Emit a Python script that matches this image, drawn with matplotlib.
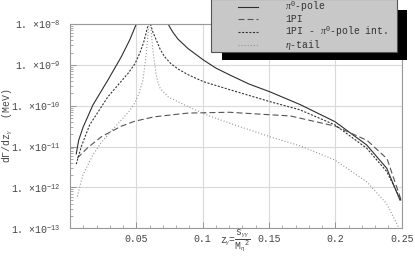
import numpy as np
import matplotlib
matplotlib.use("Agg")
import matplotlib.pyplot as plt
from matplotlib.patches import Rectangle
from matplotlib.lines import Line2D

# values, stored as log10(dGamma/dz)
# pi0-pole (solid), two branches around the pole
pole_z_left = [0.0047, 0.0065, 0.0098, 0.0173, 0.0286, 0.0387, 0.0450, 0.0500]
pole_lg_left = [-11.18, -10.85, -10.53, -9.98, -9.37, -8.80, -8.39, -8.00]
pole_z_right = [0.0739, 0.0775, 0.0814, 0.0889, 0.1005, 0.1100, 0.1206, 0.1350, 0.1507, 0.1733,
                0.1997, 0.2236, 0.2387, 0.2487]
pole_lg_right = [-8.00, -8.20, -8.37, -8.60, -8.88, -9.08, -9.25, -9.47, -9.66, -9.97,
                 -10.39, -10.96, -11.53, -12.31]

# 1PI (long dashes)
pi_z = [0.0055, 0.0136, 0.0236, 0.0387, 0.0487, 0.0638, 0.0890, 0.1200, 0.1500, 0.1660, 0.2000,
        0.2240, 0.2390, 0.2495]
pi_lg = [-11.28, -11.02, -10.76, -10.50, -10.38, -10.27, -10.18, -10.16, -10.22, -10.25, -10.50,
         -10.85, -11.30, -12.30]

# 1PI - pi0-pole interference (short dashes)
int_z_left = [0.0047, 0.0085, 0.0148, 0.0286, 0.0437, 0.0490, 0.0525, 0.0555, 0.0575, 0.0590]
int_lg_left = [-11.43, -11.00, -10.47, -9.78, -9.21, -8.97, -8.72, -8.45, -8.20, -8.00]
int_z_right = [0.0606, 0.0625, 0.0650, 0.0680, 0.0713, 0.0760, 0.0814, 0.0889, 0.1005, 0.1206,
               0.1507, 0.1733, 0.1997, 0.2236, 0.2387, 0.2500]
int_lg_right = [-8.00, -8.20, -8.39, -8.62, -8.80, -8.97, -9.10, -9.24, -9.41, -9.61,
                -9.90, -10.10, -10.47, -11.04, -11.61, -12.35]

# eta-tail (dotted)
eta_z_left = [0.0055, 0.0098, 0.0173, 0.0236, 0.0310, 0.0387, 0.0450, 0.0487, 0.0520, 0.0550,
              0.0575, 0.0595]
eta_lg_left = [-12.22, -11.69, -11.20, -10.90, -10.62, -10.35, -10.12, -9.94, -9.70, -9.37,
               -8.72, -8.00]
eta_z_right = [0.0607, 0.0625, 0.0650, 0.0665, 0.0680, 0.0739, 0.0830, 0.0930, 0.1050, 0.1206,
               0.1507, 0.1733, 0.1997, 0.2236, 0.2387, 0.2474]
eta_lg_right = [-8.00, -8.65, -9.25, -9.45, -9.58, -9.78, -9.93, -10.08, -10.25, -10.43,
                -10.76, -10.98, -11.33, -11.86, -12.40, -12.96]

x_ticks = [0.05, 0.1, 0.15, 0.2, 0.25]
x_ticklabels = ["0.05", "0.1", "0.15", "0.2", "0.25"]
y_exps = [-13, -12, -11, -10, -9, -8]
legend_labels = [r"$\pi^0$-pole", "1PI", r"1PI - $\pi^0$-pole int.", r"$\eta$-tail"]

plt.rcParams["font.family"] = ["Liberation Mono", "DejaVu Sans"]
plt.rcParams["mathtext.fontset"] = "custom"
plt.rcParams["mathtext.rm"] = "Liberation Mono"
plt.rcParams["mathtext.it"] = "Liberation Serif:italic"
plt.rcParams["mathtext.bf"] = "Liberation Mono:bold"
plt.rcParams["lines.scale_dashes"] = False

W, H = 415, 266
fig = plt.figure(figsize=(W / 100, H / 100), dpi=100)
ax = fig.add_axes([70 / W, 1 - 228.3 / H, 331.7 / W, 204.3 / H])

styles = [
    dict(color="#2e2e2e", lw=0.8, ls="-"),
    dict(color="#555555", lw=0.8, dashes=(4.3, 2.2)),
    dict(color="#333333", lw=0.8, dashes=(1.5, 1.1)),
    dict(color="#8a8a8a", lw=0.8, dashes=(0.7, 1.5)),
]

def y(lg):
    return 10.0 ** np.array(lg)

ax.plot(pole_z_left, y(pole_lg_left), **styles[0])
ax.plot(pole_z_right, y(pole_lg_right), **styles[0])
ax.plot(pi_z, y(pi_lg), **styles[1])
ax.plot(int_z_left, y(int_lg_left), **styles[2])
ax.plot(int_z_right, y(int_lg_right), **styles[2])
ax.plot(eta_z_left, y(eta_lg_left), **styles[3])
ax.plot(eta_z_right, y(eta_lg_right), **styles[3])

ax.set_yscale("log")
ax.set_xlim(0, 0.25)
ax.set_ylim(1e-13, 1e-8)

ax.set_xticks(x_ticks)
ax.set_xticklabels(x_ticklabels)
ax.set_xticks(np.arange(0.01, 0.25, 0.01), minor=True)
ax.set_yticks([10.0 ** e for e in y_exps])
ax.set_yticklabels(["1. ×10$^{%d}$" % e for e in y_exps])
ax.yaxis.set_minor_locator(matplotlib.ticker.LogLocator(base=10, subs=np.arange(2, 10)))
ax.yaxis.set_minor_formatter(matplotlib.ticker.NullFormatter())

ax.tick_params(which="both", direction="in", colors="#888888", labelcolor="#444444",
               labelsize=7.1, top=False, right=False)
ax.tick_params(which="major", length=4, width=0.6)
ax.tick_params(which="minor", length=2, width=0.5)
ax.tick_params(axis="x", pad=4)
ax.tick_params(axis="y", pad=7)
ax.grid(True, which="major", color="#d9d9d9", lw=0.8)
ax.set_axisbelow(True)
for s in ax.spines.values():
    s.set_color("#999999")
    s.set_linewidth(0.8)

ax.set_xlabel(r"z$_{\gamma}$=$\dfrac{\mathrm{s}_{\gamma\gamma}}{\mathrm{M}_{\eta}{}^{2}}$",
              fontsize=7.0, color="#444444")
ax.xaxis.set_label_coords(0.5, -(241 - 228.3) / 204.3)
ax.xaxis.label.set_va("center")
ax.set_ylabel(r"d$\Gamma$/dz$_{\gamma}$  (MeV)", fontsize=7.1, color="#444444")
ax.yaxis.label.set_va("center")
ax.yaxis.set_label_coords(-(70 - 8) / 331.7, 0.5)

# legend box with black drop shadow, in pixel positions of the figure
def fx(px):
    return px / W

def fy(py):
    return 1 - py / H

fig.add_artist(Rectangle((fx(222), fy(60)), fx(407) - fx(222), fy(10) - fy(60),
                         transform=fig.transFigure, facecolor="black", edgecolor="none", zorder=4))
fig.add_artist(Rectangle((fx(211), fy(52)), fx(397) - fx(211), fy(-1) - fy(52),
                         transform=fig.transFigure, facecolor="#c8c8c8", edgecolor="#555555",
                         lw=0.8, zorder=5))
rows = [6.5, 19.2, 31.9, 44.9]
for st, lab, ry in zip(styles, legend_labels, rows):
    fig.add_artist(Line2D([fx(238), fx(258)], [fy(ry), fy(ry)], transform=fig.transFigure,
                          zorder=6, **st))
    fig.text(fx(285), fy(ry), lab, fontsize=7.0, color="#333333", va="center", ha="left", zorder=6)

fig.savefig("out.png", dpi=100)
